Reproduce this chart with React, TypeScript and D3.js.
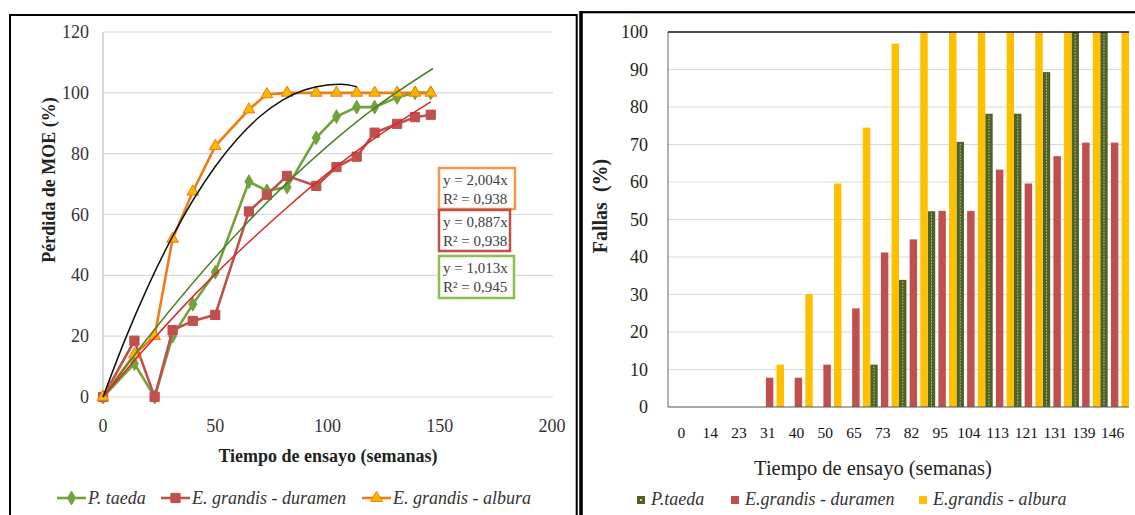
import * as d3 from "d3";

// ---- datos: pérdida de MOE (panel izquierdo) ----
const weeks = [0, 14, 23, 31, 40, 50, 65, 73, 82, 95, 104, 113, 121, 131, 139, 146];
const moeTaeda = [0, 11, 0, 20, 30.5, 41, 70.8, 67.8, 69, 85.2, 92.2, 95.3, 95.3, 98.5, 100, 100];
const moeDuramen = [0, 18.5, 0, 22, 25, 27, 61, 66.5, 72.7, 69.4, 75.6, 79, 86.9, 89.8, 92, 92.8];
const moeAlbura = [0, 14, 20, 52, 67.5, 82.5, 94.5, 99.5, 100, 100, 100, 100, 100, 100, 100, 100];

// líneas de tendencia
const trendAlburaX = [0, 10, 20, 30, 40, 50, 60, 70, 80, 90, 100, 106, 113];
const trendAlburaY = [0, 19.2, 36.3, 51.4, 64.6, 75.8, 85, 92.3, 97.6, 101, 102.6, 102.8, 102];
const trendDuramenX = [0, 20, 40, 60, 80, 100, 120, 146];
const trendDuramenY = [0, 17, 33, 47.5, 61, 73.5, 84.5, 97];
const trendTaedaX = [0, 20, 40, 60, 80, 100, 120, 147];
const trendTaedaY = [0, 19.5, 37.5, 54, 69, 82.5, 94.5, 108];

const eqLabels = ["y = 2,004x", "y = 0,887x", "y = 1,013x"];
const r2Labels = ["R² = 0,938", "R² = 0,938", "R² = 0,945"];

const moeYTicks = [0, 20, 40, 60, 80, 100, 120];
const moeXTicks = [0, 50, 100, 150, 200];

// ---- datos: fallas (panel derecho) ----
const semanas = ["0", "14", "23", "31", "40", "50", "65", "73", "82", "95", "104", "113", "121", "131", "139", "146"];
const fallasTaeda = [0, 0, 0, 0, 0, 0, 0, 11.3, 33.9, 52.2, 70.7, 78.2, 78.2, 89.3, 100, 100];
const fallasDuramen = [0, 0, 0, 7.8, 7.8, 11.3, 26.3, 41.2, 44.7, 52.3, 52.3, 63.3, 59.6, 66.9, 70.5, 70.5];
const fallasAlbura = [0, 0, 0, 11.3, 30.1, 59.6, 74.5, 96.9, 100, 100, 100, 100, 100, 100, 100, 100];
const fallasYTicks = [0, 10, 20, 30, 40, 50, 60, 70, 80, 90, 100];

const SERIF = "'Liberation Serif', 'DejaVu Serif', serif";
const GREEN = "#72a23b";
const RED = "#c0504d";
const ORANGE = "#f07d12";

function MoeChart() {
  const x = d3.scaleLinear().domain([0, 200]).range([103, 552]);
  const y = d3.scaleLinear().domain([0, 120]).range([397, 32]);
  const line = d3.line<[number, number]>().x((d) => x(d[0])).y((d) => y(d[1]));
  const smooth = d3
    .line<[number, number]>()
    .x((d) => x(d[0]))
    .y((d) => y(d[1]))
    .curve(d3.curveMonotoneX);

  const series = [
    { name: "P. taeda", values: moeTaeda, color: GREEN, sym: d3.symbolDiamond, size: 55, fill: GREEN, stroke: GREEN },
    { name: "E. grandis - duramen", values: moeDuramen, color: RED, sym: d3.symbolSquare, size: 85, fill: RED, stroke: RED },
    { name: "E. grandis - albura", values: moeAlbura, color: ORANGE, sym: d3.symbolTriangle, size: 60, fill: "#f9b800", stroke: ORANGE },
  ];
  const trends = [
    { xs: trendTaedaX, ys: trendTaedaY, color: "#4f7f2c" },
    { xs: trendDuramenX, ys: trendDuramenY, color: "#d42a2a" },
    { xs: trendAlburaX, ys: trendAlburaY, color: "#111" },
  ];
  const boxes = [
    { x: 439, y: 168, w: 76, h: 41, color: "#f79646" },
    { x: 439, y: 210, w: 71, h: 41, color: "#c0504d" },
    { x: 439, y: 256, w: 75, h: 42, color: "#8cbf4f" },
  ];
  const legendX = [57, 161, 362];

  return (
    <g style={{ fontFamily: SERIF }}>
      {moeYTicks.map((t) => (
        <g key={t}>
          <line x1={103} x2={553} y1={y(t)} y2={y(t)} stroke="#d9d9d9" strokeWidth={1.2} />
          <text x={89} y={y(t) + 6} textAnchor="end" fontSize={18} fill="#333">{t}</text>
        </g>
      ))}
      <line x1={103} x2={103} y1={y(120)} y2={y(0)} stroke="#bfbfbf" strokeWidth={1.2} />
      {moeXTicks.map((t) => (
        <text key={t} x={x(t)} y={432} textAnchor="middle" fontSize={18} fill="#333">{t}</text>
      ))}

      {series.map((s) => (
        <g key={s.name}>
          <path
            d={line(weeks.map((w, i) => [w, s.values[i]] as [number, number])) ?? ""}
            fill="none"
            stroke={s.color}
            strokeWidth={2.6}
          />
          {weeks.map((w, i) => (
            <path
              key={w}
              d={d3.symbol().type(s.sym).size(s.size)() ?? ""}
              transform={`translate(${x(w)},${y(s.values[i])})`}
              fill={s.fill}
              stroke={s.stroke}
              strokeWidth={1}
            />
          ))}
        </g>
      ))}

      {trends.map((t, k) => (
        <path
          key={k}
          d={smooth(t.xs.map((v, i) => [v, t.ys[i]] as [number, number])) ?? ""}
          fill="none"
          stroke={t.color}
          strokeWidth={1.5}
        />
      ))}

      {boxes.map((b, i) => (
        <g key={i}>
          <rect x={b.x} y={b.y} width={b.w} height={b.h} fill="#fff" stroke={b.color} strokeWidth={2.5} />
          <text x={b.x + 4} y={b.y + 17} fontSize={15} fill="#404040">{eqLabels[i]}</text>
          <text x={b.x + 4} y={b.y + 36} fontSize={15} fill="#404040">{r2Labels[i]}</text>
        </g>
      ))}

      <text
        transform="translate(55,180) rotate(-90)"
        textAnchor="middle"
        fontSize={18}
        fontWeight="bold"
        fill="#222"
      >
        Pérdida de MOE (%)
      </text>
      <text x={328} y={462} textAnchor="middle" fontSize={18} fontWeight="bold" fill="#222">
        Tiempo de ensayo (semanas)
      </text>

      {series.map((s, i) => (
        <g key={s.name} transform={`translate(${legendX[i]},498)`}>
          <line x1={0} x2={29} y1={0} y2={0} stroke={s.color} strokeWidth={2.6} />
          <path
            d={d3.symbol().type(s.sym).size(s.size)() ?? ""}
            transform="translate(14.5,0)"
            fill={s.fill}
            stroke={s.stroke}
          />
          <text x={31} y={6} fontSize={18} fontStyle="italic" fill="#333">{s.name}</text>
        </g>
      ))}
    </g>
  );
}

function FallasChart() {
  const x = d3.scaleBand<string>().domain(semanas).range([669, 1129]);
  const sub = d3
    .scaleBand<string>()
    .domain(["taeda", "duramen", "albura"])
    .range([0, x.bandwidth()])
    .paddingInner(0.3);
  const y = d3.scaleLinear().domain([0, 100]).range([407, 32]);

  const groups = [
    { key: "taeda", values: fallasTaeda, color: "#4f6228" },
    { key: "duramen", values: fallasDuramen, color: RED },
    { key: "albura", values: fallasAlbura, color: "#ffc000" },
  ];
  const legend = [
    { x: 637, label: "P.taeda", color: "#4f6228" },
    { x: 731, label: "E.grandis - duramen", color: RED },
    { x: 919, label: "E.grandis - albura", color: "#ffc000" },
  ];

  return (
    <g style={{ fontFamily: SERIF }}>
      {fallasYTicks.map((t) => (
        <g key={t}>
          {t > 0 && t < 100 && (
            <line x1={668} x2={1129} y1={y(t)} y2={y(t)} stroke="#d9d9d9" strokeWidth={1} />
          )}
          <text x={648} y={y(t) + 6} textAnchor="end" fontSize={18} fill="#222">{t}</text>
        </g>
      ))}

      {groups.map((g) =>
        semanas.map((s, i) => {
          const v = g.values[i];
          if (!v) return null;
          const bx = (x(s) ?? 0) + (sub(g.key) ?? 0);
          const bw = sub.bandwidth();
          return (
            <g key={g.key + s}>
              <rect x={bx} y={y(v)} width={bw} height={y(0) - y(v)} fill={g.color} />
              {g.key === "taeda" && (
                <line
                  x1={bx + bw / 2}
                  x2={bx + bw / 2}
                  y1={y(v) + 2}
                  y2={y(0)}
                  stroke="#b9cc8e"
                  strokeWidth={1}
                  strokeDasharray="1.5 1.5"
                />
              )}
            </g>
          );
        })
      )}

      <line x1={668} x2={668} y1={32} y2={407} stroke="#666" strokeWidth={1} />
      <line x1={668} x2={1129} y1={407} y2={407} stroke="#555" strokeWidth={1.2} />
      <line x1={668} x2={1129} y1={32} y2={32} stroke="#111" strokeWidth={1.5} />

      {semanas.map((s) => (
        <text
          key={s}
          x={(x(s) ?? 0) + x.bandwidth() / 2 - 2}
          y={438}
          textAnchor="middle"
          fontSize={15.5}
          fill="#111"
        >
          {s}
        </text>
      ))}

      <text
        transform="translate(607,206) rotate(-90)"
        textAnchor="middle"
        fontSize={20}
        fontWeight="bold"
        fill="#222"
        style={{ whiteSpace: "pre" }}
      >
        {"Fallas  (%)"}
      </text>
      <text x={873} y={475} textAnchor="middle" fontSize={20.5} fill="#222">
        Tiempo de ensayo (semanas)
      </text>

      {legend.map((l) => (
        <g key={l.label} transform={`translate(${l.x},500)`}>
          <rect x={0} y={-4} width={8} height={8} fill={l.color} />
          {l.label === "P.taeda" && <rect x={3} y={-1} width={2} height={2} fill="#c4d79b" />}
          <text x={14} y={5} fontSize={18} fontStyle="italic" fill="#333">{l.label}</text>
        </g>
      ))}
    </g>
  );
}

export default function App() {
  return (
    <svg
      width={1135}
      height={515}
      style={{ position: "fixed", left: 0, top: 0, background: "#fff", display: "block", fontFamily: SERIF }}
    >
      <rect x={0} y={0} width={1135} height={515} fill="#fff" />
      <rect x={10} y={15} width={566.7} height={540} fill="#fff" stroke="#000" strokeWidth={2} />
      <rect x={581} y={12.2} width={600} height={540} fill="#fff" stroke="#000" strokeWidth={2.2} />
      <line x1={581} x2={581} y1={11} y2={515} stroke="#000" strokeWidth={3.5} />
      <MoeChart />
      <FallasChart />
    </svg>
  );
}
